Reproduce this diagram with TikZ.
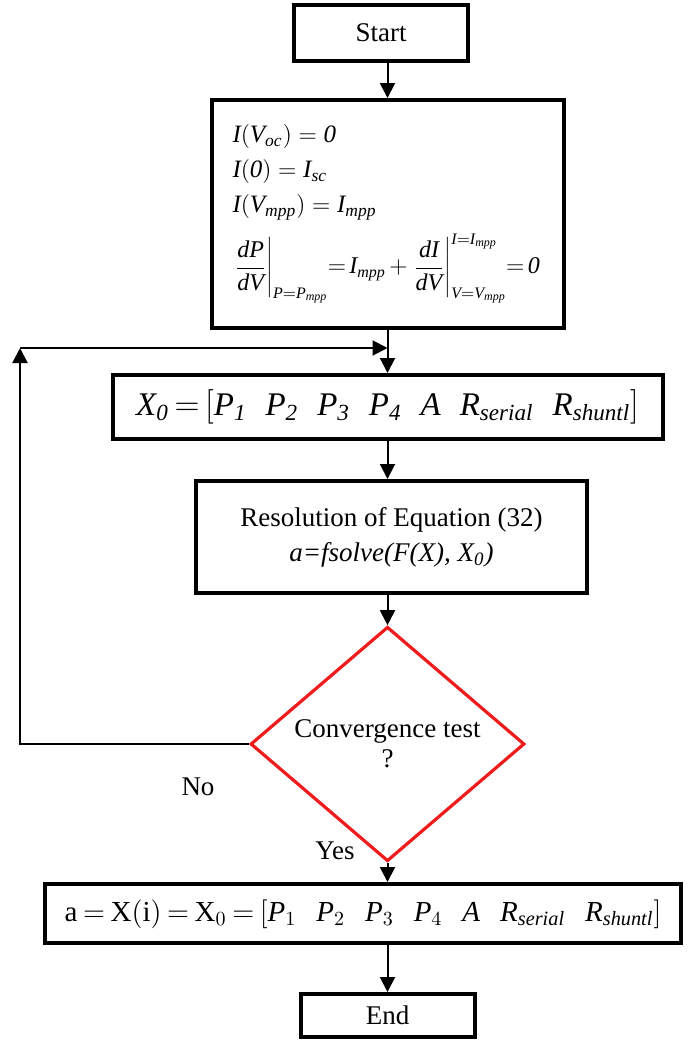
\documentclass[tikz,border=0pt]{standalone}
\usepackage{fontspec}
\setmainfont{Liberation Serif}
\usepackage{tikz}
\usetikzlibrary{positioning, arrows.meta, calc, shapes.geometric}
\definecolor{testred}{HTML}{EE1C1C}
% Times-like italic letters in math
\DeclareSymbolFont{tletters}{TU}{\rmdefault}{m}{it}
\makeatletter
\count@=`A
\loop\Umathcode\count@="7 \symtletters\count@\ifnum\count@<`Z\advance\count@\@ne\repeat
\count@=`a
\loop\Umathcode\count@="7 \symtletters\count@\ifnum\count@<`z\advance\count@\@ne\repeat
\makeatother
\newcommand{\pgap}{\hspace{9.5pt}}
\newcommand{\qgap}{\hspace{10pt}}

\begin{document}
\begin{tikzpicture}[x=0.5pt, y=-0.5pt,
    every node/.style={font=\fontsize{13.5}{17.5}\selectfont},
    stepbox/.style={draw, line width=2pt, inner sep=0pt, align=center},
    flow/.style={-{Triangle[length=7.5pt, width=7.5pt]}, line width=1pt},
    decision/.style={diamond, draw=testred, line width=1.6pt, inner sep=0pt, align=center}]
  \useasboundingbox (0,0) rectangle (694,1040);

  % main column
  \node[stepbox, minimum width=87pt, minimum height=28pt] (start) at (381,33) {Start};
  \node[stepbox, minimum width=176pt, minimum height=114pt, text width=155pt, align=left,
        font=\fontsize{12.5}{17.5}\selectfont] (eqs) at (387.5,214) {%
    $I(V_{oc})=\mathit{0}$\\
    $I(\mathit{0})=I_{sc}$\\
    $I(V_{mpp})=I_{mpp}$\\[6pt]
    \fontsize{12}{17.5}\selectfont \thickmuskip=2.5mu \medmuskip=2.5mu
    \mbox{$\displaystyle\left.\frac{dP}{dV}\right|_{P=P_{mpp}}\!=I_{mpp}+\left.\frac{dI}{dV}\right|_{V=V_{mpp}}^{I=I_{mpp}}\!=\mathit{0}$}\\[-2pt]};
  \node[stepbox, minimum width=275pt, minimum height=32pt] (init) at (387.5,407) {%
    \fontsize{16.5}{20}\selectfont \thickmuskip=3mu
    $X_{\mathit{0}}=\Bigl[P_{\mathit{1}}\pgap P_{\mathit{2}}\pgap P_{\mathit{3}}\pgap P_{\mathit{4}}\pgap A\pgap R_{serial}\pgap R_{shuntl}\Bigr]$};
  \node[stepbox, minimum width=195.5pt, minimum height=56pt] (solve) at (391.5,537) {%
    Resolution of Equation (32)\\
    \textit{a=fsolve(F(X), X\textsubscript{0})}};
  \node[decision, minimum width=137pt, minimum height=92pt, font=\fontsize{13.5}{15}\selectfont] (test) at (387.5,744) {Convergence test\\?};
  \node[stepbox, minimum width=318pt, minimum height=29.5pt] (result) at (363,913.5) {%
    \fontsize{14.5}{18}\selectfont \thickmuskip=3.5mu
    $\mathrm{a}=\mathrm{X(i)}=\mathrm{X}_{0}=\Bigl[P_1\qgap P_2\qgap P_3\qgap P_4\qgap A\qgap R_{serial}\qgap R_{shuntl}\Bigr]$};
  \node[stepbox, minimum width=87pt, minimum height=21.5pt] (finish) at (387.5,1015.5) {End};

  % branch labels
  \node (no) at (198,787) {No};
  \node (yes) at (335,851) {Yes};

  % loop back
  \coordinate (fbcorner) at (20,348);
  \coordinate (fbjoin) at (387.5,348);

  \draw[flow] (start.south -| eqs.north) -- (eqs.north);
  \draw[flow] (eqs.south) -- (init.north);
  \draw[flow] (init.south) -- (init.south |- solve.north);
  \draw[flow] (solve.south -| test.north) -- (test.north);
  \draw[flow] (test.south) -- (test.south |- result.north);
  \draw[flow] (result.south -| finish.north) -- (finish.north);
  \draw[flow] (test.west) -| (fbcorner);
  \draw[flow] (fbcorner) -- (fbjoin);
\end{tikzpicture}
\end{document}
